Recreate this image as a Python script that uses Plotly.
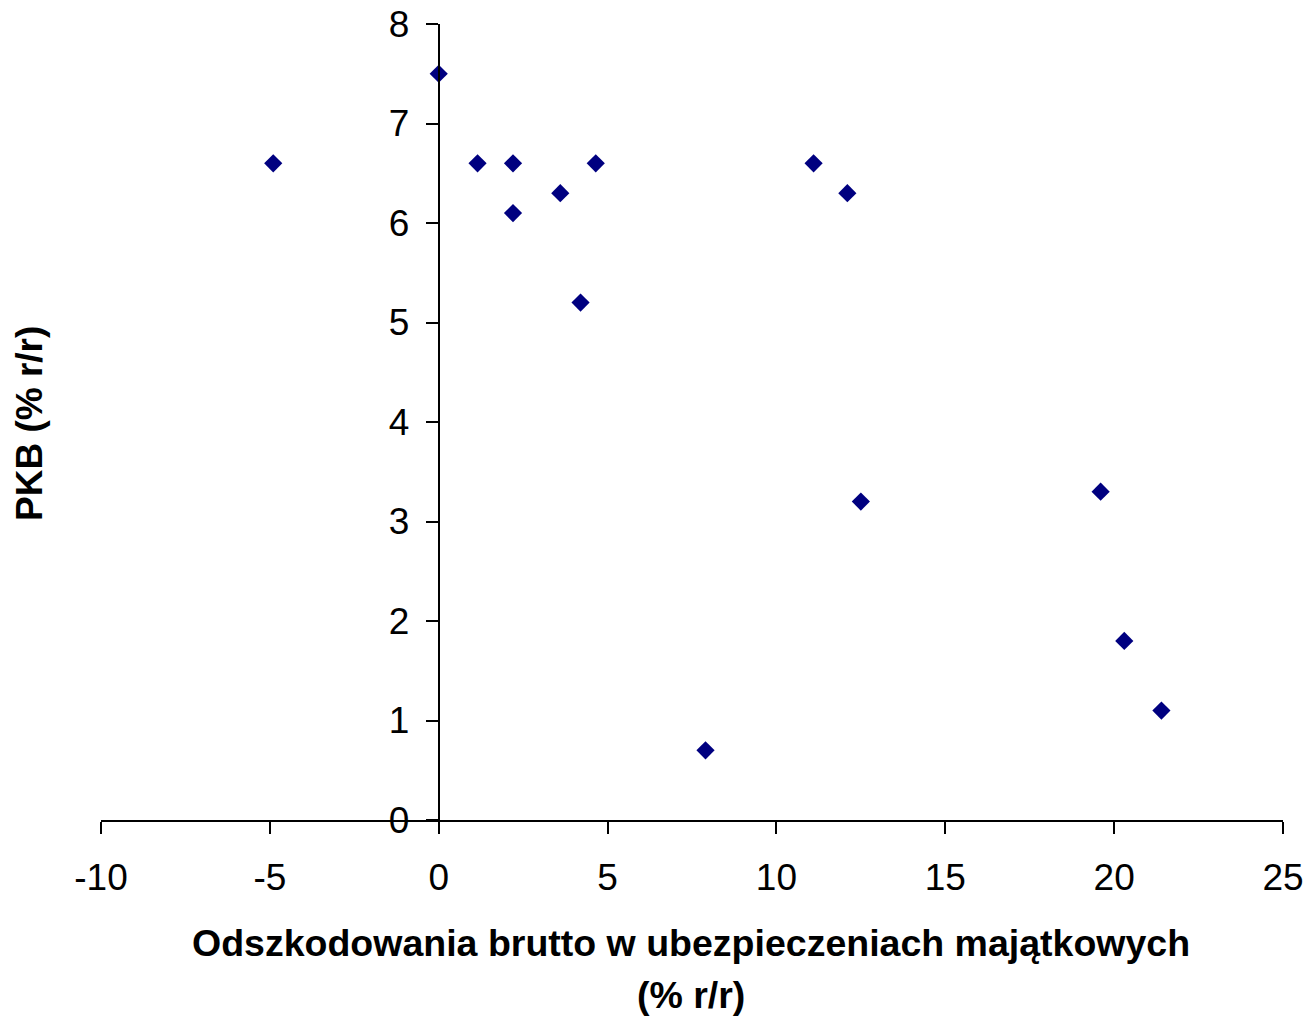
import plotly.graph_objects as go

# Data
claims_growth = [-4.9, 0.0, 1.15, 2.2, 2.2, 3.6, 4.2, 4.65, 7.9, 11.1, 12.1, 12.5, 19.6, 20.3, 21.4]
gdp_growth = [6.6, 7.5, 6.6, 6.6, 6.1, 6.3, 5.2, 6.6, 0.7, 6.6, 6.3, 3.2, 3.3, 1.8, 1.1]

x_ticks = [-10, -5, 0, 5, 10, 15, 20, 25]
y_ticks = [0, 1, 2, 3, 4, 5, 6, 7, 8]

x_title_lines = ["Odszkodowania brutto w ubezpieczeniach majątkowych", "(% r/r)"]
y_title = "PKB (% r/r)"

FONT = "Liberation Sans, Arial, sans-serif"

fig = go.Figure(go.Scatter(
    x=claims_growth, y=gdp_growth, mode="markers",
    marker=dict(symbol="diamond", size=14, color="#000080", line=dict(width=0)),
    cliponaxis=False,
))

xr = [-10, 25]
# plot area targeted at x 101..1283, y 24..820 (body margin removed below)
W, H = 1308, 1016
L, R, T, B = 101, 25, 24, 196
plot_w = W - L - R
plot_h = H - T - B

annotations = [
    dict(text="<b>" + x_title_lines[0] + "</b>",
         xref="paper", yref="paper", x=(691 - L) / plot_w, y=-(943 - 820) / plot_h,
         xanchor="center", yanchor="middle", showarrow=False,
         font=dict(size=37.5, family=FONT)),
    dict(text="<b>" + x_title_lines[1] + "</b>",
         xref="paper", yref="paper", x=(691 - L) / plot_w, y=-(995 - 820) / plot_h,
         xanchor="center", yanchor="middle", showarrow=False,
         font=dict(size=37.5, family=FONT)),
    dict(text="<b>" + y_title + "</b>", textangle=-90,
         xref="paper", yref="paper", x=-(L - 30) / plot_w, y=(820 - 424) / plot_h,
         xanchor="center", yanchor="middle", showarrow=False,
         font=dict(size=37, family=FONT)),
]

fig.update_layout(
    width=W, height=H,
    margin=dict(l=L, r=R, t=T, b=B, autoexpand=False),
    paper_bgcolor="white", plot_bgcolor="white",
    showlegend=False,
    font=dict(family=FONT, color="black", size=37),
    xaxis=dict(
        range=xr, tickvals=x_ticks, ticktext=[str(v) for v in x_ticks],
        showgrid=False, zeroline=False, showline=True, linecolor="black", linewidth=2,
        ticks="outside", ticklen=12, tickwidth=2, tickcolor="black", automargin=False,
        tickfont=dict(size=37, family=FONT), ticklabelstandoff=12,
        ticklabeloverflow="allow",
    ),
    yaxis=dict(
        range=[0, 8], tickvals=y_ticks, ticktext=[str(v) for v in y_ticks],
        anchor="free", position=(0 - xr[0]) / (xr[1] - xr[0]),
        showgrid=False, zeroline=False, showline=True, linecolor="black", linewidth=2,
        ticks="outside", ticklen=12, tickwidth=2, tickcolor="black", automargin=False,
        tickfont=dict(size=37, family=FONT), ticklabelstandoff=9,
        ticklabeloverflow="allow",
    ),
    annotations=annotations,
)

fig.write_html(
    "out.html",
    config={"displayModeBar": False, "staticPlot": True},
    post_script="document.body.style.margin='0';document.body.style.overflow='hidden';",
)
